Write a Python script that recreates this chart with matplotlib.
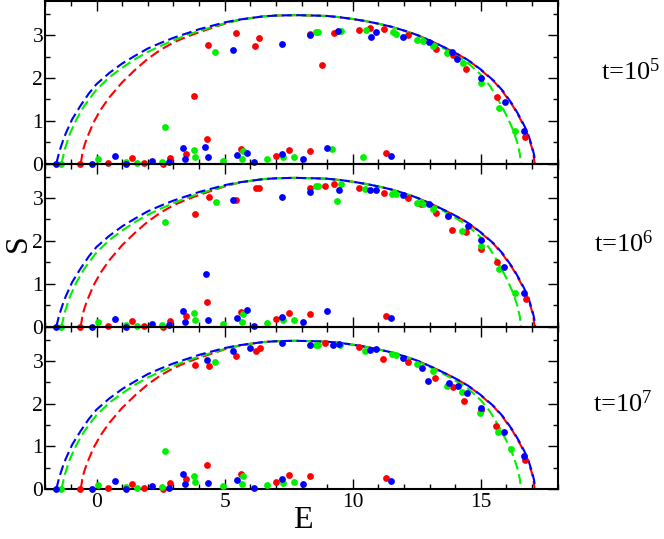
import matplotlib
matplotlib.use("Agg")
import matplotlib.pyplot as plt
from matplotlib.ticker import MultipleLocator

plt.rcParams['font.family'] = ['Liberation Serif', 'DejaVu Serif']
plt.rcParams['mathtext.fontset'] = 'custom'
plt.rcParams['mathtext.rm'] = 'Liberation Serif'
plt.rcParams['mathtext.it'] = 'Liberation Serif:italic'

RED, GREEN, BLUE = '#ff0000', '#00f000', '#0000ff'

# ---- theoretical S(E) curves ----
blue_curve_E = [-1.57, -1.50, -1.43, -1.32, -1.20, -0.95, -0.63, -0.30, 0.0, 0.5, 1.0, 1.5, 2.0, 2.5, 3.0,
                3.5, 4.0, 4.5, 5.0, 5.5, 6.0, 6.5, 7.0, 7.75, 8.5, 9.0, 9.5, 10.0, 10.5, 11.0, 11.5, 12.0,
                12.5, 13.0, 13.5, 14.0, 14.5, 15.0, 15.5, 15.86, 16.25, 16.57, 16.83, 17.0, 17.08, 17.13]
blue_curve_S = [0.0, 0.17, 0.32, 0.52, 0.71, 1.04, 1.35, 1.64, 1.86, 2.12, 2.34, 2.52, 2.69, 2.82, 2.94,
                3.04, 3.14, 3.22, 3.30, 3.36, 3.40, 3.44, 3.46, 3.47, 3.46, 3.45, 3.42, 3.38, 3.33, 3.27, 3.20, 3.11,
                3.01, 2.88, 2.74, 2.59, 2.42, 2.20, 1.94, 1.70, 1.37, 1.04, 0.72, 0.40, 0.20, 0.0]

green_curve_E = [-1.37, -1.31, -1.26, -1.15, -1.04, -0.78, -0.49, -0.12, 0.0, 0.5, 1.0, 1.5, 2.0, 2.5, 3.0,
                 3.5, 4.0, 4.5, 5.0, 5.5, 6.0, 6.5, 7.0, 7.75, 8.5, 9.0, 9.5, 10.0, 10.5, 11.0, 11.5, 12.0,
                 12.5, 13.0, 13.5, 14.0, 14.5, 15.0, 15.35, 15.7, 16.0, 16.25, 16.42, 16.52, 16.57]
green_curve_S = [0.0, 0.15, 0.30, 0.50, 0.70, 1.04, 1.34, 1.64, 1.73, 2.02, 2.24, 2.44, 2.61, 2.75, 2.88,
                 3.00, 3.10, 3.19, 3.28, 3.35, 3.40, 3.44, 3.46, 3.47, 3.46, 3.45, 3.42, 3.38, 3.33, 3.27, 3.20, 3.11,
                 3.00, 2.86, 2.71, 2.54, 2.35, 2.08, 1.82, 1.47, 1.13, 0.80, 0.50, 0.24, 0.0]

red_curve_E = [-0.62, -0.58, -0.55, -0.46, -0.36, -0.12, 0.16, 0.5, 1.0, 1.5, 2.0, 2.5, 3.0,
               3.5, 4.0, 4.5, 5.0, 5.5, 6.0, 6.5, 7.0, 7.75, 8.5, 9.0, 9.5, 10.0, 10.5, 11.0, 11.5, 12.0,
               12.5, 13.0, 13.5, 14.0, 14.5, 15.0, 15.5, 15.86, 16.25, 16.57, 16.83, 17.0, 17.06, 17.10]
red_curve_S = [0.0, 0.13, 0.27, 0.45, 0.62, 0.96, 1.26, 1.55, 1.90, 2.19, 2.45, 2.66, 2.83,
               2.96, 3.07, 3.17, 3.27, 3.35, 3.40, 3.44, 3.46, 3.47, 3.46, 3.45, 3.42, 3.38, 3.33, 3.27, 3.20, 3.11,
               3.01, 2.88, 2.74, 2.59, 2.42, 2.19, 1.93, 1.68, 1.35, 1.01, 0.68, 0.36, 0.18, 0.0]

# ---- data points, panel 1 (t=1e5) ----
p1_red_E = [-0.64, 0.43, 1.37, 1.87, 2.61, 2.85, 3.48, 3.80, 4.32, 4.37, 5.44, 5.65, 6.19, 6.35, 7.0, 7.51,
            8.32, 8.32, 8.81, 9.27, 10.23, 10.67, 11.22, 11.31, 12.17, 13.26, 13.92, 14.43, 15.63, 16.74]
p1_red_S = [0.0, 0.02, 0.13, 0.02, 0.0, 0.13, 0.23, 1.59, 0.57, 2.77, 3.05, 0.35, 2.74, 2.93, 0.17, 0.33,
            0.30, 3.03, 2.30, 3.05, 3.13, 3.17, 3.15, 0.26, 3.00, 2.69, 2.53, 2.22, 1.55, 0.63]
p1_green_E = [-1.38, 0.07, 1.15, 1.56, 2.57, 2.67, 3.80, 3.86, 4.63, 4.95, 5.69, 5.73, 6.67, 7.27, 7.71,
              8.58, 8.65, 9.2, 9.55, 10.41, 10.52, 11.57, 11.70, 12.50, 12.76, 13.15, 13.69, 14.31, 15.02,
              15.70, 16.32]
p1_green_S = [0.0, 0.10, 0.05, 0.02, 0.05, 0.85, 0.31, 0.16, 2.61, 0.07, 0.12, 0.30, 0.10, 0.15, 0.16,
              3.08, 3.08, 0.34, 3.09, 0.16, 3.12, 3.08, 3.04, 2.88, 2.86, 2.76, 2.58, 2.35, 1.88,
              1.31, 0.77]
p1_blue_E = [-1.58, -0.16, 0.72, 1.16, 2.17, 2.83, 3.39, 3.46, 4.23, 4.34, 5.31, 5.50, 5.88, 6.13, 7.24,
             7.25, 8.05, 8.32, 8.99, 9.43, 10.70, 10.90, 11.49, 11.98, 12.99, 13.86, 14.08, 15.02, 15.93,
             16.67]
p1_blue_S = [0.0, 0.0, 0.19, 0.0, 0.07, 0.03, 0.36, 0.12, 0.38, 0.15, 2.65, 0.20, 0.26, 0.04, 2.80,
             0.23, 0.10, 3.01, 0.36, 3.10, 2.96, 3.08, 0.19, 2.95, 2.84, 2.62, 2.45, 2.00, 1.44,
             0.77]

# ---- data points, panel 2 (t=1e6) ----
p2_red_E = [-0.64, 0.43, 1.37, 1.87, 2.61, 2.85, 3.48, 3.84, 4.32, 4.38, 5.46, 5.65, 6.22, 6.36, 7.0, 7.51,
            8.32, 8.32, 8.91, 9.27, 10.23, 11.22, 11.29, 12.15, 12.67, 13.24, 13.88, 14.41, 15.0, 15.62, 16.76]
p2_red_S = [0.0, 0.02, 0.13, 0.02, 0.0, 0.13, 0.24, 2.62, 0.57, 3.02, 2.95, 0.35, 3.23, 3.23, 0.17, 0.33,
            0.30, 3.23, 3.29, 3.32, 3.24, 3.12, 0.26, 3.01, 2.86, 2.66, 2.26, 2.21, 1.80, 1.50, 0.64]
p2_green_E = [-1.38, 0.07, 1.15, 1.56, 2.57, 2.67, 3.80, 3.86, 4.65, 4.95, 5.69, 5.73, 6.67, 7.27, 7.71,
              8.58, 8.64, 9.37, 9.56, 10.49, 11.53, 11.68, 12.49, 12.76, 13.15, 13.70, 14.28, 15.0,
              15.71, 16.32]
p2_green_S = [0.0, 0.10, 0.05, 0.02, 0.05, 2.43, 0.31, 0.16, 2.91, 0.07, 0.11, 0.29, 0.09, 0.15, 0.16,
              3.28, 3.28, 2.93, 3.32, 3.20, 3.09, 3.09, 2.89, 2.85, 2.74, 2.57, 2.24, 1.88,
              1.35, 0.78]
p2_blue_E = [-1.58, -0.16, 0.72, 1.16, 2.17, 2.83, 3.39, 3.46, 4.27, 4.34, 5.31, 5.50, 5.88, 6.13, 7.25,
             7.25, 8.05, 8.32, 9.0, 9.46, 10.69, 10.91, 11.49, 11.98, 12.98, 13.72, 14.50, 15.02, 15.89,
             16.67]
p2_blue_S = [0.0, 0.0, 0.19, 0.0, 0.07, 0.03, 0.37, 0.12, 1.24, 0.15, 2.96, 0.20, 0.40, 0.02, 3.02,
             0.23, 0.11, 3.15, 0.37, 3.19, 3.18, 3.18, 0.20, 3.06, 2.87, 2.57, 2.34, 2.02, 1.39,
             0.79]

# ---- data points, panel 3 (t=1e7) ----
p3_red_E = [-0.64, 0.43, 1.37, 1.87, 2.61, 2.85, 3.48, 3.86, 4.32, 4.38, 5.46, 5.65, 6.22, 6.38, 7.0, 7.51,
            8.32, 8.90, 10.23, 11.20, 11.29, 12.15, 13.21, 13.90, 14.36, 15.0, 15.58, 16.71]
p3_red_S = [0.0, 0.02, 0.12, 0.02, 0.0, 0.13, 0.23, 2.91, 0.57, 2.89, 3.11, 0.35, 3.23, 3.29, 0.17, 0.33,
            0.30, 3.42, 3.33, 3.04, 0.26, 2.97, 2.59, 2.38, 2.06, 1.86, 1.47, 0.67]
p3_green_E = [-1.38, 0.07, 1.15, 1.56, 2.57, 2.67, 3.80, 3.86, 4.64, 4.95, 5.69, 5.73, 6.67, 7.27, 7.71,
              8.58, 8.65, 9.52, 10.49, 11.53, 11.68, 12.49, 13.15, 13.68, 14.28, 14.97, 15.67, 16.16]
p3_green_S = [0.0, 0.09, 0.05, 0.02, 0.05, 0.89, 0.31, 0.16, 2.97, 0.07, 0.12, 0.30, 0.09, 0.15, 0.16,
              3.37, 3.38, 3.36, 3.23, 3.15, 3.13, 2.92, 2.76, 2.41, 2.27, 1.78, 1.33, 0.93]
p3_blue_E = [-1.58, -0.16, 0.72, 1.16, 2.17, 2.83, 3.39, 3.46, 4.30, 4.34, 5.34, 5.50, 5.99, 6.13, 7.25,
             7.25, 8.05, 8.32, 9.22, 9.46, 10.69, 10.91, 11.49, 11.98, 12.72, 12.95, 13.76, 14.09, 14.47,
             15.0, 15.89, 16.67]
p3_blue_S = [0.0, 0.0, 0.19, 0.0, 0.07, 0.03, 0.35, 0.11, 3.03, 0.14, 3.22, 0.20, 3.29, 0.02, 3.42,
             0.23, 0.11, 3.37, 3.36, 3.39, 3.25, 3.27, 0.19, 3.07, 2.83, 2.52, 2.49, 2.42, 2.25,
             1.90, 1.34, 0.77]

panel_labels = ['t=10$^{5}$', 't=10$^{6}$', 't=10$^{7}$']
x_tick_labels = ['0', '5', '10', '15']
y_tick_labels = ['0', '1', '2', '3']

panels = [
    ((p1_red_E, p1_red_S), (p1_green_E, p1_green_S), (p1_blue_E, p1_blue_S)),
    ((p2_red_E, p2_red_S), (p2_green_E, p2_green_S), (p2_blue_E, p2_blue_S)),
    ((p3_red_E, p3_red_S), (p3_green_E, p3_green_S), (p3_blue_E, p3_blue_S)),
]
curves = [(red_curve_E, red_curve_S, RED), (green_curve_E, green_curve_S, GREEN),
          (blue_curve_E, blue_curve_S, BLUE)]

W, H = 664, 539
fig = plt.figure(figsize=(W / 100, H / 100), dpi=100)
fig.patch.set_facecolor('white')

left = 45.3 / W
right = 557.7 / W
tops_px = [1.0, 163.7, 326.7]
bots_px = [163.7, 326.7, 489.0]
label_baseline_px = [80.0, 251.7, 411.7]
label_x_px = [601, 594, 593]

for i in range(3):
    b = 1 - bots_px[i] / H
    h = (bots_px[i] - tops_px[i]) / H
    ax = fig.add_axes([left, b, right - left, h])
    ax.set_facecolor('none')
    ax.set_xlim(-2, 18)
    ax.set_ylim(0, 3.8)
    for cE, cS, col in curves:
        ax.plot(cE, cS, color=col, lw=1.5, linestyle=(0, (4.8, 2.2)), zorder=2)
    for (E, S), col in zip(panels[i], [RED, GREEN, BLUE]):
        ax.plot(E, S, 'o', color=col, markersize=4.9, markeredgewidth=0, clip_on=False, zorder=3)
    ax.xaxis.set_major_locator(MultipleLocator(5))
    ax.xaxis.set_minor_locator(MultipleLocator(1))
    ax.set_yticks([0, 1, 2, 3])
    ax.set_yticklabels(y_tick_labels)
    ax.yaxis.set_minor_locator(MultipleLocator(0.5))
    ax.tick_params(which='both', direction='in', top=True, right=True, width=1.0)
    ax.tick_params(which='major', length=7)
    ax.tick_params(which='minor', length=3.5)
    ax.tick_params(axis='y', labelsize=15.5, pad=1.5)
    ax.tick_params(axis='x', labelsize=15.5, pad=3)
    for sp in ax.spines.values():
        sp.set_linewidth(1.5)
    if i < 2:
        ax.set_xticklabels([])
    else:
        ax.set_xticks([0, 5, 10, 15])
        ax.set_xticklabels(x_tick_labels)
    fig.text(label_x_px[i] / W, 1 - label_baseline_px[i] / H, panel_labels[i],
             fontsize=19, ha='left', va='baseline')

fig.text(18 / W, 1 - 243 / H, 'S', fontsize=23, rotation=90, ha='center', va='center')
fig.text(302.5 / W, 1 - 521 / H, 'E', fontsize=23, ha='center', va='center')

fig.savefig('out.png', dpi=100, facecolor='white')
